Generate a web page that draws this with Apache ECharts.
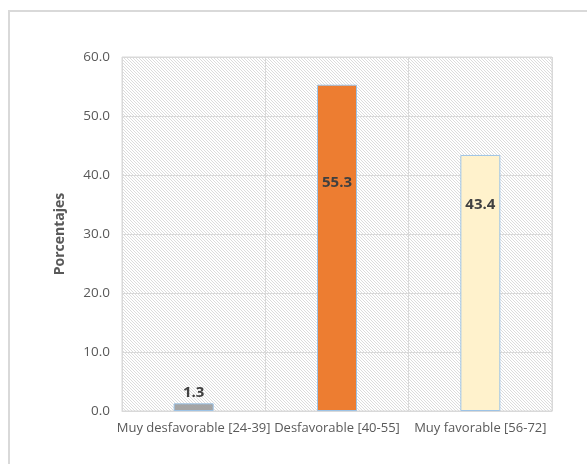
<!DOCTYPE html>
<html>
<head>
<meta charset="utf-8">
<script src="https://cdn.jsdelivr.net/npm/echarts@6/dist/echarts.min.js"></script>
<style>
  html, body { margin: 0; padding: 0; background: #ffffff; }
  #frame { position: absolute; left: 8px; top: 10px; width: 600px; height: 480px;
           border-left: 2px solid #d9d9d9; border-top: 2px solid #d9d9d9; box-sizing: border-box; }
  #chart { position: absolute; left: 0; top: 0; width: 587px; height: 464px; }
</style>
</head>
<body>
<div id="frame"></div>
<div id="chart"></div>
<script>
// Attitude levels and their share of respondents (%)
const categories = ['Muy desfavorable [24-39]', 'Desfavorable [40-55]', 'Muy favorable [56-72]'];
const percentages = [1.3, 55.3, 43.4];
const barColors = ['#a5a5a5', '#ed7d31', '#fff2cc'];
const yTicks = { min: 0, max: 60, interval: 10 };

// Fine diagonal hatch used as the plot-area fill
function hatchPattern() {
  const c = document.createElement('canvas');
  c.width = 3; c.height = 3;
  const g = c.getContext('2d');
  g.fillStyle = '#ffffff';
  g.fillRect(0, 0, 3, 3);
  g.fillStyle = '#dcdcdc';
  for (let i = 0; i < 3; i++) g.fillRect(i, i, 1, 1);
  return { image: c, repeat: 'repeat' };
}

const labelOffsets = [null, 98, 50];
const font = '"Open Sans", sans-serif';

const chart = echarts.init(document.getElementById('chart'), null, { renderer: 'canvas' });
chart.setOption({
  animation: false,
  grid: {
    left: 122, right: 35, top: 57, bottom: 53,
    show: true,
    backgroundColor: hatchPattern(),
    borderColor: '#d9d9d9', borderWidth: 1
  },
  xAxis: {
    type: 'category',
    data: categories,
    axisLine: { lineStyle: { color: '#d9d9d9' } },
    axisTick: { show: false },
    splitLine: { show: true, lineStyle: { color: '#d9d9d9' } },
    axisLabel: { color: '#595959', fontSize: 13, fontFamily: font, margin: 11, interval: 0 }
  },
  yAxis: {
    type: 'value',
    min: yTicks.min, max: yTicks.max, interval: yTicks.interval,
    name: 'Porcentajes',
    nameLocation: 'middle',
    nameGap: 55,
    nameTextStyle: { color: '#595959', fontSize: 14, fontWeight: 'bold', fontFamily: font },
    axisLine: { show: false },
    axisTick: { show: false },
    splitLine: { lineStyle: { color: '#d9d9d9' } },
    axisLabel: { color: '#595959', fontSize: 13.5, fontFamily: font, margin: 12,
                 formatter: v => v.toFixed(1) }
  },
  series: [{
    type: 'bar',
    barWidth: 40,
    data: percentages.map((v, i) => ({
      value: v,
      itemStyle: { color: barColors[i], borderColor: '#9dc3e6', borderWidth: 1 },
      label: labelOffsets[i] === null
        ? { position: 'top', distance: 3 }
        : { position: ['50%', labelOffsets[i]], align: 'center', verticalAlign: 'middle' }
    })),
    label: {
      show: true,
      color: '#404040',
      fontSize: 15,
      fontWeight: 'bold',
      fontFamily: font,
      formatter: p => p.value.toFixed(1)
    }
  }]
});
</script>
</body>
</html>
